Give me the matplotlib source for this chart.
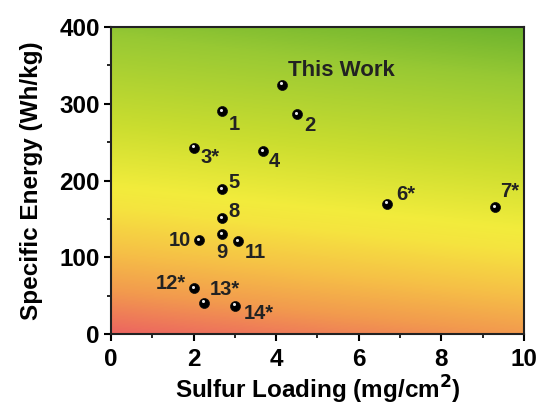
import numpy as np
import matplotlib
matplotlib.use("Agg")
import matplotlib.pyplot as plt
from matplotlib.colors import LinearSegmentedColormap
from matplotlib.transforms import ScaledTranslation

# Data
labels = ["This Work", "1", "2", "3*", "4", "5", "8", "9", "10", "11",
          "6*", "7*", "12*", "13*", "14*"]
sulfur_loading = [4.13, 2.68, 4.50, 2.00, 3.67, 2.68, 2.68, 2.68, 2.13, 3.07,
                  6.69, 9.30, 2.01, 2.26, 3.00]
specific_energy = [325, 290, 286, 243, 238, 189, 151, 130, 122, 121,
                   170, 165, 60, 41, 37]
x_ticks = [0, 2, 4, 6, 8, 10]
y_ticks = [0, 100, 200, 300, 400]

# label offsets in pixels (dx, dy up-positive) and horizontal alignment
offsets = {
    "This Work": (6, 14, "left"),
    "1": (7, -13, "left"),
    "2": (7, -11, "left"),
    "3*": (7, -10, "left"),
    "4": (6, -10, "left"),
    "5": (7, 6, "left"),
    "8": (7, 7, "left"),
    "9": (0, -18, "center"),
    "10": (-8, 0, "right"),
    "11": (7, -11, "left"),
    "6*": (9, 9, "left"),
    "7*": (5, 16, "left"),
    "12*": (-8, 5, "right"),
    "13*": (5, 13, "left"),
    "14*": (9, -8, "left"),
}

plt.rcParams['font.family'] = ['Liberation Sans', 'DejaVu Sans']

fig = plt.figure(figsize=(5.44, 4.08), dpi=100)
ax = fig.add_axes([0.204, 0.181, 0.759, 0.753])
ax.set_xlim(0, 10)
ax.set_ylim(0, 400)

# background gradient
cmap = LinearSegmentedColormap.from_list("bg", [
    (0.00, "#ec6560"),
    (0.12, "#f29a4e"),
    (0.24, "#f6c246"),
    (0.36, "#f5e43f"),
    (0.42, "#f2ec3c"),
    (0.60, "#cadd2f"),
    (0.85, "#98c934"),
    (1.00, "#6cb32e"),
])
nx, ny = 300, 300
xf = np.linspace(0, 1, nx)
yf = np.linspace(0, 1, ny)
XF, YF = np.meshgrid(xf, yf)
T = (YF + 0.14 * XF) / 1.14
ax.imshow(T, cmap=cmap, extent=[0, 10, 0, 400], origin="lower",
          aspect="auto", zorder=0, interpolation="bilinear")

# markers
ax.scatter(sulfur_loading, specific_energy, s=52, color="black", zorder=3,
           edgecolors="#111111", linewidths=0.5)
hl = ax.transData + ScaledTranslation(-0.6 / 72, 0.9 / 72, fig.dpi_scale_trans)
ax.scatter(sulfur_loading, specific_energy, s=5, color="#e8e8e8", zorder=4,
           transform=hl, linewidths=0)

for lab, x, y in zip(labels, sulfur_loading, specific_energy):
    dx, dy, ha = offsets[lab]
    ax.annotate(lab, (x, y), xytext=(dx, dy), textcoords="offset pixels",
                ha=ha, va="center", fontsize=16 if lab == "This Work" else 14.5,
                fontweight="bold", color="#222222", zorder=5)

ax.set_xticks(x_ticks)
ax.set_yticks(y_ticks)
ax.set_xticks(np.arange(1, 10, 2), minor=True)
ax.set_yticks(np.arange(50, 400, 100), minor=True)
ax.tick_params(axis="both", which="major", direction="out", length=5, width=1.5,
               labelsize=17.5)
ax.tick_params(axis="x", which="major", pad=5)
ax.tick_params(axis="y", which="major", pad=3)
ax.tick_params(axis="both", which="minor", direction="out", length=3, width=1.2)
for lbl in ax.get_xticklabels() + ax.get_yticklabels():
    lbl.set_fontweight("bold")
for sp in ax.spines.values():
    sp.set_linewidth(1.5)
    sp.set_color("#222222")

ax.set_xlabel("Sulfur Loading (mg/cm$^\\mathbf{2}$)", fontsize=17.5,
              fontweight="bold", labelpad=2)
ax.set_ylabel("Specific Energy (Wh/kg)", fontsize=17.5, fontweight="bold",
              labelpad=12)

fig.savefig("out.png", dpi=100)
